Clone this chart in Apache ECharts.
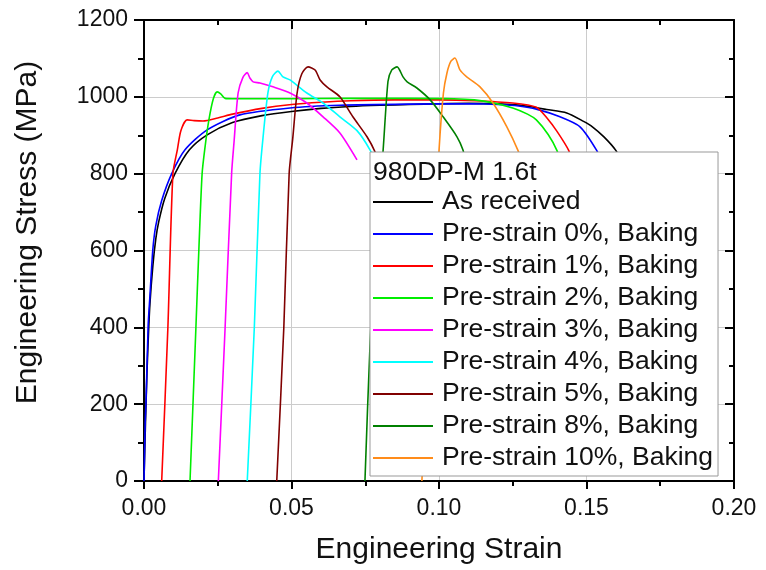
<!DOCTYPE html>
<html>
<head>
<meta charset="utf-8">
<script src="https://cdn.jsdelivr.net/npm/echarts@6/dist/echarts.min.js"></script>
<style>
  html, body { margin: 0; padding: 0; background: #fff; }
  #chart { width: 766px; height: 570px; }
</style>
</head>
<body>
<div id="chart"></div>
<script>
// strain, stress (MPa)
var asReceived = [[0,0],[0.0005,150],[0.001,280],[0.0015,380],[0.002,460],[0.003,560],[0.004,630],[0.005,675],[0.007,735],[0.0105,800],[0.0154,862],[0.0214,901],[0.03,933],[0.04,951],[0.05,962],[0.06,970],[0.07,975],[0.08,978],[0.09,980],[0.10,982],[0.11,983],[0.12,982],[0.126,979],[0.131,974],[0.1365,967],[0.1433,958],[0.149,936],[0.152,922],[0.156,895],[0.160,860],[0.162,830]];
var pre0 = [[0,0],[0.0004,150],[0.0007,210],[0.0014,403],[0.002,480],[0.003,603],[0.004,665],[0.006,730],[0.0094,800],[0.0139,862],[0.0214,914],[0.0325,953],[0.0495,971],[0.0664,978],[0.09,981],[0.1115,982],[0.12,980],[0.127,976],[0.133,968],[0.141,948],[0.1478,922],[0.1535,860],[0.155,830]];
var pre1 = [[0.006,0],[0.0081,400],[0.0098,800],[0.0113,862],[0.0125,912],[0.0146,940],[0.017,938],[0.02,937],[0.025,945],[0.03,955],[0.04,970],[0.05,980],[0.06,986],[0.07,990],[0.085,992],[0.1,992],[0.112,990],[0.125,984],[0.133,973],[0.1366,945],[0.140,910],[0.144,860],[0.145,830]];
var pre2 = [[0.0156,0],[0.0176,400],[0.0186,603],[0.0197,800],[0.0207,870],[0.022,940],[0.0235,995],[0.0248,1013],[0.026,1008],[0.0275,996],[0.03,995],[0.05,995],[0.07,996],[0.09,996],[0.105,995],[0.112,992],[0.118,985],[0.125,971],[0.130,955],[0.133,940],[0.137,902],[0.140,860],[0.141,830]];
var pre3 = [[0.0252,0],[0.0275,400],[0.0297,800],[0.0305,880],[0.0319,1010],[0.0335,1050],[0.035,1063],[0.0359,1049],[0.037,1039],[0.0393,1036],[0.0437,1026],[0.0495,1010],[0.0552,984],[0.0607,948],[0.0664,906],[0.0722,836]];
var pre4 = [[0.035,0],[0.0374,400],[0.0393,800],[0.0403,890],[0.042,1010],[0.0435,1052],[0.0454,1067],[0.0471,1052],[0.0495,1044],[0.0552,1010],[0.0607,984],[0.0664,948],[0.0722,912],[0.0766,862],[0.079,820]];
var pre5 = [[0.045,0],[0.0474,400],[0.0492,800],[0.0504,890],[0.0519,1010],[0.0535,1060],[0.0556,1078],[0.058,1070],[0.0597,1044],[0.062,1026],[0.0664,1000],[0.0708,948],[0.0756,896],[0.0783,857],[0.080,820]];
var pre8 = [[0.0749,0],[0.0766,350],[0.0787,650],[0.081,855],[0.0827,1040],[0.084,1070],[0.0858,1078],[0.0878,1052],[0.0892,1039],[0.0925,1023],[0.097,992],[0.1014,948],[0.1061,896],[0.1081,862],[0.109,830]];
var pre10 = [[0.0942,0],[0.097,450],[0.100,860],[0.1015,1010],[0.1027,1062],[0.104,1092],[0.1054,1101],[0.1071,1070],[0.1094,1052],[0.1139,1026],[0.1183,984],[0.123,922],[0.1268,860],[0.128,830]];

var names = ['As received', 'Pre-strain 0%, Baking', 'Pre-strain 1%, Baking', 'Pre-strain 2%, Baking',
  'Pre-strain 3%, Baking', 'Pre-strain 4%, Baking', 'Pre-strain 5%, Baking', 'Pre-strain 8%, Baking',
  'Pre-strain 10%, Baking'];
var colors = ['#000000', '#0000ff', '#ff0000', '#00ee00', '#ff00ff', '#00ffff', '#800000', '#008000', '#ff8c1a'];
var curves = [asReceived, pre0, pre1, pre2, pre3, pre4, pre5, pre8, pre10];

var font = '"Liberation Sans", Arial, sans-serif';

var series = curves.map(function (d, i) {
  return {
    name: names[i],
    type: 'line',
    data: d,
    symbol: 'none',
    smooth: 0.25,
    color: colors[i],
    lineStyle: { width: 1.6, color: colors[i] }
  };
});

var frameX = {
  type: 'value', position: 'top', min: 0, max: 0.2, interval: 0.05,
  axisLine: { show: true, onZero: false, lineStyle: { color: '#000', width: 2 } },
  axisTick: { show: true, inside: true, length: 9, lineStyle: { color: '#000', width: 2 } },
  minorTick: { show: true, splitNumber: 2, length: 5, lineStyle: { color: '#000', width: 2 } },
  axisLabel: { show: false },
  splitLine: { show: false }
};
var frameY = {
  type: 'value', position: 'right', min: 0, max: 1200, interval: 200,
  axisLine: { show: true, onZero: false, lineStyle: { color: '#000', width: 2 } },
  axisTick: { show: true, inside: true, length: 9, lineStyle: { color: '#000', width: 2 } },
  minorTick: { show: true, splitNumber: 2, length: 5, lineStyle: { color: '#000', width: 2 } },
  axisLabel: { show: false },
  splitLine: { show: false }
};

var option = {
  animation: false,
  backgroundColor: '#fff',
  textStyle: { fontFamily: font },
  grid: { left: 144, right: 32, top: 20, bottom: 88 },
  title: {
    text: '980DP-M 1.6t',
    left: 373, top: 159, padding: 0,
    textStyle: { fontFamily: font, fontSize: 26.5, fontWeight: 'normal', color: '#111' }
  },
  legend: {
    orient: 'vertical', left: 370, top: 152,
    padding: [34, 5, 2, 3],
    icon: 'rect',
    itemWidth: 60, itemHeight: 2, itemGap: 0,
    backgroundColor: '#fff', borderColor: '#999', borderWidth: 1,
    data: names,
    textStyle: { fontFamily: font, fontSize: 26.5, color: '#111', lineHeight: 32, padding: [0, 0, 0, 4] }
  },
  xAxis: [{
    type: 'value', min: 0, max: 0.2, interval: 0.05,
    name: 'Engineering Strain', nameLocation: 'middle', nameGap: 54,
    nameTextStyle: { fontFamily: font, fontSize: 30, color: '#111' },
    axisLine: { show: true, onZero: false, lineStyle: { color: '#000', width: 2 } },
    axisTick: { show: true, length: 8, lineStyle: { color: '#000', width: 2 } },
    minorTick: { show: true, splitNumber: 2, length: 5, lineStyle: { color: '#000', width: 2 } },
    axisLabel: { margin: 16, fontSize: 23, color: '#111', fontFamily: font,
      formatter: function (v) { return v.toFixed(2); } },
    splitLine: { show: true, lineStyle: { color: '#cccccc', width: 1 } }
  }, frameX],
  yAxis: [{
    type: 'value', min: 0, max: 1200, interval: 200,
    name: 'Engineering Stress (MPa)', nameLocation: 'middle', nameGap: 101,
    nameTextStyle: { fontFamily: font, fontSize: 30, color: '#111', padding: [0, 0, 0, 36] },
    axisLine: { show: true, onZero: false, lineStyle: { color: '#000', width: 2 } },
    axisTick: { show: true, length: 10, lineStyle: { color: '#000', width: 2 } },
    minorTick: { show: true, splitNumber: 2, length: 6, lineStyle: { color: '#000', width: 2 } },
    axisLabel: { margin: 16, fontSize: 23, color: '#111', fontFamily: font,
      formatter: function (v) { return String(v); } },
    splitLine: { show: true, lineStyle: { color: '#cccccc', width: 1 } }
  }, frameY],
  series: series
};

var chart = echarts.init(document.getElementById('chart'));
chart.setOption(option);
</script>
</body>
</html>
